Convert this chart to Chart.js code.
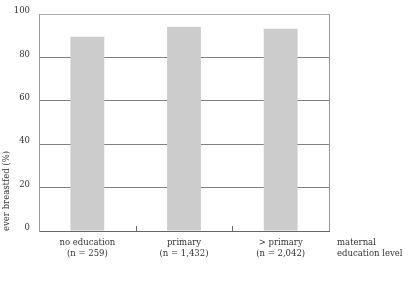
<!DOCTYPE html>
<html><head><meta charset="utf-8">
<script src="https://cdn.jsdelivr.net/npm/chart.js@4/dist/chart.umd.min.js"></script>
<style>html,body{margin:0;padding:0;background:#fff}#wrap{width:410px;height:293px}</style>
</head><body><div id="wrap"><canvas id="c" width="410" height="293"></canvas></div>
<script>
const categories = [["no education","(n = 259)"],["primary","(n = 1,432)"],["> primary","(n = 2,042)"]];
const everBreastfed = [89.5, 94.2, 93.2];
const yTicks = [0,20,40,60,80,100];
const xAxisNote = ["maternal","education level"];
const yTitle = "ever breastfed (%)";

const FONT = "'DejaVu Serif', 'Liberation Serif', serif";
const FS = 8.5;
const extras = {
  id:'extras',
  afterDraw(chart){
    const {ctx, chartArea:a, scales:{x}} = chart;
    ctx.save();
    ctx.strokeStyle = '#999'; ctx.lineWidth = 1;
    ctx.beginPath(); ctx.moveTo(Math.round(a.right)+0.5, a.top); ctx.lineTo(Math.round(a.right)+0.5, a.bottom); ctx.stroke();
    ctx.strokeStyle = '#666';
    for (let i=0;i<categories.length-1;i++){
      const px = Math.round((x.getPixelForValue(i)+x.getPixelForValue(i+1))/2)+0.5;
      ctx.beginPath(); ctx.moveTo(px, a.bottom); ctx.lineTo(px, a.bottom-5); ctx.stroke();
    }
    ctx.fillStyle = '#333'; ctx.font = FS + "px " + FONT; ctx.textBaseline='middle'; ctx.textAlign='left';
    xAxisNote.forEach((t,i)=> ctx.fillText(t, a.right+8, a.bottom+12+i*11));
    ctx.restore();
  }
};

new Chart(document.getElementById('c'), {
  type:'bar',
  data:{labels:categories, datasets:[{data:everBreastfed, backgroundColor:'#cccccc', borderWidth:0, barPercentage:0.7, categoryPercentage:0.5}]},
  options:{
    responsive:false, animation:false, devicePixelRatio:1,
    layout:{padding:{left:0,right:81,top:12,bottom:0}},
    plugins:{legend:{display:false}, tooltip:{enabled:false}},
    scales:{
      x:{
        grid:{display:false, drawTicks:false},
        border:{color:'#666', width:1},
        ticks:{color:'#333', font:{family:FONT,size:FS}, padding:7, maxRotation:0, autoSkip:false},
        afterFit(s){ s.height = 62; }
      },
      y:{
        min:0, max:100,
        afterBuildTicks(s){ s.ticks = yTicks.map(v=>({value:v})); },
        grid:{color:(c)=> (c.tick && (c.tick.value===100)) ? '#aaa' : '#808080', drawTicks:false},
        border:{color:'#999', width:1},
        ticks:{color:'#333', font:{family:FONT,size:FS}, padding:9, labelOffset:-3},
        title:{display:true, text:yTitle, align:'start', color:'#333', font:{family:FONT,size:FS}, padding:{top:2,bottom:0}},
        afterFit(s){ s.width = 39; }
      }
    }
  },
  plugins:[extras]
});
</script></body></html>
